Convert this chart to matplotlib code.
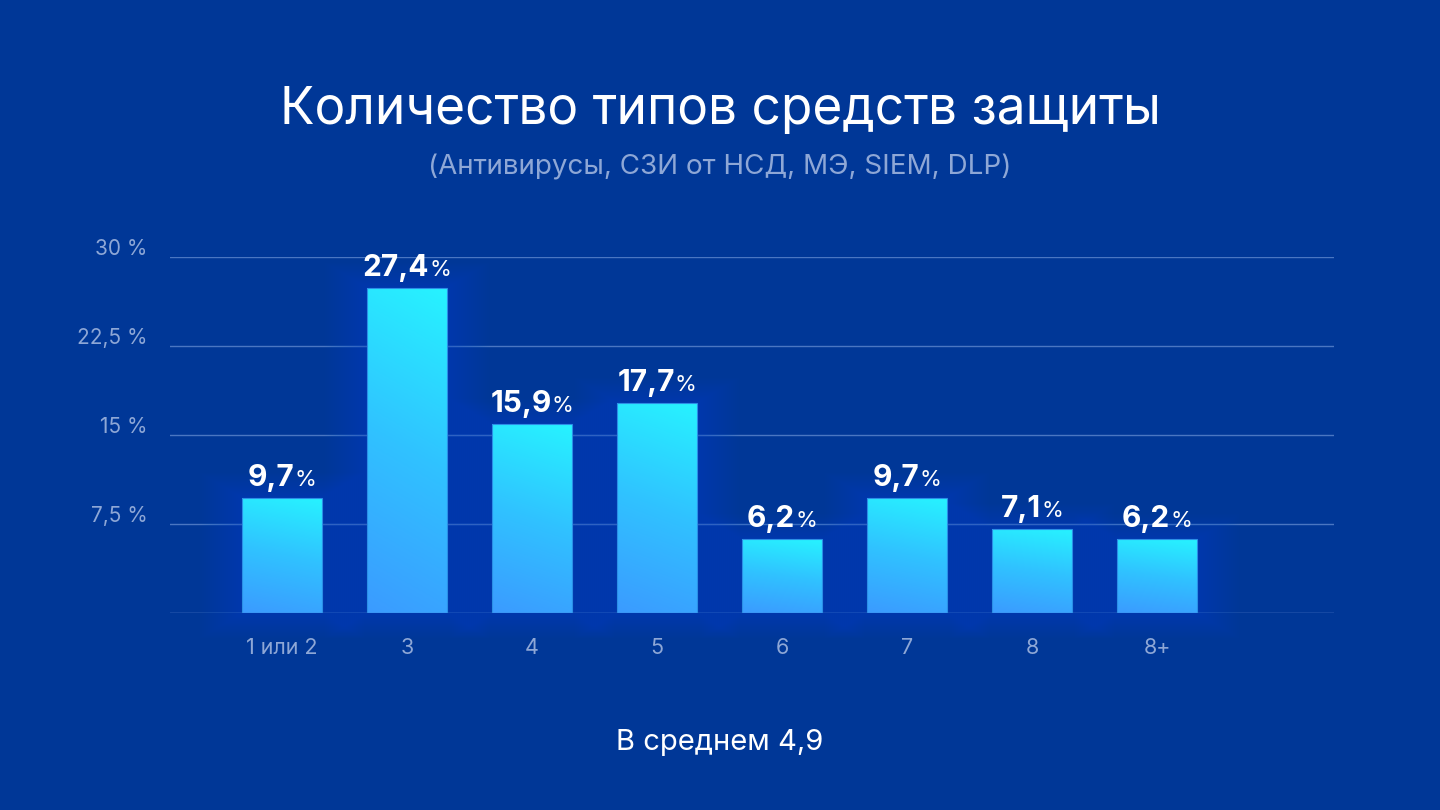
import numpy as np
import matplotlib
matplotlib.use('Agg')
import matplotlib.pyplot as plt
from matplotlib.colors import LinearSegmentedColormap
from matplotlib.patches import Rectangle
from matplotlib.transforms import ScaledTranslation

# ---- data ----
categories = ['1 или 2', '3', '4', '5', '6', '7', '8', '8+']
values = [9.7, 27.4, 15.9, 17.7, 6.2, 9.7, 7.1, 6.2]
value_labels = ['9,7', '27,4', '15,9', '17,7', '6,2', '9,7', '7,1', '6,2']
ytick_values = [0, 7.5, 15, 22.5, 30]
ytick_labels = ['', '7,5 %', '15 %', '22,5 %', '30 %']
title = 'Количество типов средств защиты'
subtitle = '(Антивирусы, СЗИ от НСД, МЭ, SIEM, DLP)'
footer = 'В среднем 4,9'

BG = '#003797'
plt.rcParams['font.family'] = ['Inter', 'DejaVu Sans']

W, H = 1440, 810
fig = plt.figure(figsize=(14.4, 8.1), dpi=100, facecolor=BG)
ax = fig.add_axes([170 / W, 1 - 613 / H, (1334 - 170) / W, (613 - 257) / H])
ax.set_facecolor(BG)

x = np.arange(len(categories))
xlim = (-0.896, 8.416)
ylim = (0, 30)
px_x = (xlim[1] - xlim[0]) / (1334 - 170)
px_y = (ylim[1] - ylim[0]) / (613 - 257)

bars = ax.bar(x, values, width=0.64, color='none', edgecolor='none', zorder=3)

# glow
for b in bars:
    x0, w, h = b.get_x(), b.get_width(), b.get_height()
    for p in range(2, 44, 2):
        r = Rectangle((x0 - p * px_x, -p * px_y * 0.6), w + 2 * p * px_x, h + p * px_y * 1.2,
                      facecolor='#0a5ff0', edgecolor='none', alpha=0.018, zorder=2, clip_on=False)
        ax.add_patch(r)

# gradient fill
cmap = LinearSegmentedColormap.from_list('g', ['#3b9bff', '#30c2ff', '#27f3ff'])
yy, xx = np.mgrid[0:1:200j, 0:1:40j]
grad = 0.88 * yy + 0.12 * xx
for b in bars:
    x0, w, h = b.get_x(), b.get_width(), b.get_height()
    im = ax.imshow(grad, cmap=cmap, origin='lower', extent=(x0, x0 + w, 0, h),
                   aspect='auto', zorder=3, interpolation='bilinear')
    im.set_clip_path(b)
    ax.add_patch(Rectangle((x0, 0), w, h, facecolor='none', edgecolor='#2b8fe6',
                           lw=0.8, zorder=4))

ax.axhline(0, color='#4a76c2', lw=1, alpha=0.6, zorder=5)

ax.set_xlim(xlim)
ax.set_ylim(ylim)

# axes styling
for s in ax.spines.values():
    s.set_visible(False)
ax.set_yticks(ytick_values, ytick_labels)
ax.set_xticks(x, categories)
ax.grid(axis='y', color='#4a76c2', lw=1)
ax.set_axisbelow(True)
ax.tick_params(axis='both', length=0)
ax.tick_params(axis='x', pad=18, labelsize=15.5, labelcolor='#8ea7d6')
ax.tick_params(axis='y', pad=16, labelsize=15, labelcolor='#8ea7d6')
off = ScaledTranslation(0, 10 / 100, fig.dpi_scale_trans)
for lab in ax.get_yticklabels():
    lab.set_transform(lab.get_transform() + off)

# value labels (bold number + smaller %)
nums, pcts = [], []
for xi, v, s in zip(x, values, value_labels):
    t1 = ax.annotate(s, xy=(xi, v), xytext=(0, 12), textcoords='offset pixels',
                     ha='left', va='baseline', fontsize=21.5, fontweight='bold',
                     color='white', zorder=6, annotation_clip=False)
    t2 = ax.annotate('%', xy=(xi, v), xytext=(0, 12), textcoords='offset pixels',
                     ha='left', va='baseline', fontsize=16, color='white',
                     zorder=6, annotation_clip=False)
    nums.append(t1)
    pcts.append(t2)

fig.canvas.draw()
rend = fig.canvas.get_renderer()
gap = 0
for t1, t2 in zip(nums, pcts):
    w1 = t1.get_window_extent(rend).width
    w2 = t2.get_window_extent(rend).width
    tot = w1 + gap + w2
    t1.set_position((-tot / 2, 12))
    t2.set_position((-tot / 2 + w1 + gap, 12))

fig.text(0.5, 1 - 110 / H, title, ha='center', va='center', fontsize=37, color='white')
fig.text(0.5, 1 - 167 / H, subtitle, ha='center', va='center', fontsize=20, color='#8ea7d6')
fig.text(0.5, 1 - 742 / H, footer, ha='center', va='center', fontsize=21, color='white')

fig.savefig('out.png', dpi=100, facecolor=BG)
